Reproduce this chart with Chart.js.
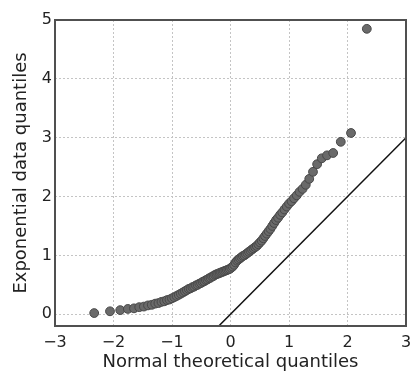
<!DOCTYPE html>
<html>
<head>
<meta charset="utf-8">
<script src="https://cdn.jsdelivr.net/npm/chart.js@4"></script>
<style>
  html, body { margin: 0; padding: 0; background: #fff; }
  #wrap { width: 412px; height: 376px; }
</style>
</head>
<body>
<div id="wrap"><canvas id="chart" width="412" height="376"></canvas></div>
<script>
// theoretical normal quantiles (x) and sorted sample values (y)
let normQ = [
  -2.33, -2.06, -1.885, -1.755, -1.65, -1.56, -1.481, -1.41, -1.346, -1.287,
  -1.232, -1.18, -1.132, -1.086, -1.043, -1.001, -0.961, -0.922, -0.885, -0.849,
  -0.813, -0.779, -0.746, -0.714, -0.682, -0.651, -0.621, -0.591, -0.562, -0.533,
  -0.504, -0.476, -0.449, -0.421, -0.394, -0.368, -0.341, -0.315, -0.289, -0.263,
  -0.238, -0.212, -0.187, -0.162, -0.137, -0.112, -0.087, -0.062, -0.037, -0.012,
  0.012, 0.037, 0.062, 0.087, 0.112, 0.137, 0.162, 0.187, 0.212, 0.238,
  0.263, 0.289, 0.315, 0.341, 0.368, 0.394, 0.421, 0.449, 0.476, 0.504,
  0.533, 0.562, 0.591, 0.621, 0.651, 0.682, 0.714, 0.746, 0.779, 0.813,
  0.849, 0.885, 0.922, 0.961, 1.001, 1.043, 1.086, 1.132, 1.18, 1.232,
  1.287, 1.346, 1.41, 1.481, 1.56, 1.65, 1.755, 1.885, 2.06, 2.33
];
let sampleQ = [
  0.02, 0.05, 0.07, 0.09, 0.10, 0.12, 0.13, 0.15, 0.16, 0.18,
  0.19, 0.21, 0.22, 0.24, 0.25, 0.27, 0.29, 0.31, 0.33, 0.35,
  0.37, 0.39, 0.41, 0.43, 0.44, 0.46, 0.47, 0.49, 0.50, 0.52,
  0.53, 0.55, 0.56, 0.58, 0.59, 0.61, 0.62, 0.64, 0.65, 0.67,
  0.68, 0.69, 0.70, 0.71, 0.72, 0.73, 0.74, 0.75, 0.76, 0.77,
  0.79, 0.81, 0.84, 0.88, 0.91, 0.93, 0.95, 0.97, 0.99, 1.00,
  1.02, 1.04, 1.06, 1.08, 1.10, 1.12, 1.14, 1.16, 1.19, 1.22,
  1.25, 1.29, 1.33, 1.37, 1.41, 1.45, 1.50, 1.55, 1.60, 1.64,
  1.69, 1.73, 1.78, 1.83, 1.88, 1.92, 1.97, 2.02, 2.08, 2.13,
  2.20, 2.30, 2.42, 2.55, 2.65, 2.70, 2.74, 2.93, 3.08, 4.85
];
// reference line y = x
let refX = [-3, 3];
let refY = [-3, 3];

let xTicks = [-3, -2, -1, 0, 1, 2, 3];
let yTicks = [0, 1, 2, 3, 4, 5];

let points = normQ.map(function (v, i) { return { x: v, y: sampleQ[i] }; });
let refLine = refX.map(function (v, i) { return { x: v, y: refY[i] }; });

function minus(v) {
    return v < 0 ? "\u2212" + Math.abs(v) : String(v);
}

// box round the plot area, like matplotlib's frame
let frame = {
    id: "frame",
    afterDraw: function (chart) {
        let a = chart.chartArea;
        let ctx = chart.ctx;
        ctx.save();
        ctx.strokeStyle = "#505050";
        ctx.lineWidth = 2;
        ctx.strokeRect(a.left, a.top, a.right - a.left, a.bottom - a.top);
        ctx.restore();
    }
};

Chart.defaults.font.family = "'DejaVu Sans', sans-serif";
Chart.defaults.color = "#222";

let ctx = document.getElementById("chart").getContext("2d");
let display = new Chart(ctx, {
    type: "scatter",
    data: {
        datasets: [
            {
                label: "reference",
                type: "line",
                data: refLine,
                borderColor: "#111",
                borderWidth: 1.5,
                pointRadius: 0,
                fill: false
            },
            {
                label: "sample",
                data: points,
                backgroundColor: "#6a6a6a",
                borderColor: "#484848",
                borderWidth: 1,
                pointRadius: 4.4
            }
        ]
    },
    options: {
        responsive: false,
        animation: false,
        layout: { padding: { top: 20, right: 6, left: 0, bottom: 0 } },
        plugins: {
            legend: { display: false },
            tooltip: { enabled: false }
        },
        scales: {
            x: {
                type: "linear",
                min: -3,
                max: 3,
                afterBuildTicks: function (scale) {
                    scale.ticks = xTicks.map(function (v) { return { value: v }; });
                },
                afterFit: function (scale) {
                    scale.height = 50;
                    scale.paddingLeft = 0;
                    scale.paddingRight = 0;
                },
                ticks: {
                    font: { size: 16 },
                    padding: 7,
                    maxRotation: 0,
                    callback: function (v) { return minus(v); }
                },
                grid: {
                    color: "#c4c4c4",
                    lineWidth: 1,
                    drawTicks: false
                },
                border: { display: false, dash: [2, 2] },
                title: {
                    display: true,
                    text: "Normal theoretical quantiles",
                    font: { size: 18 },
                    padding: { top: 0, bottom: 3 }
                }
            },
            y: {
                type: "linear",
                min: -0.2,
                max: 5,
                afterBuildTicks: function (scale) {
                    scale.ticks = yTicks.map(function (v) { return { value: v }; });
                },
                afterFit: function (scale) {
                    scale.width = 55;
                    scale.paddingTop = 0;
                    scale.paddingBottom = 0;
                },
                ticks: {
                    font: { size: 16 },
                    padding: 3,
                    callback: function (v) { return minus(v); }
                },
                grid: {
                    color: "#c4c4c4",
                    lineWidth: 1,
                    drawTicks: false
                },
                border: { display: false, dash: [2, 2] },
                title: {
                    display: true,
                    text: "Exponential data quantiles",
                    font: { size: 18 },
                    padding: { top: 11, bottom: 0 }
                }
            }
        }
    },
    plugins: [frame]
});
</script>
</body>
</html>
